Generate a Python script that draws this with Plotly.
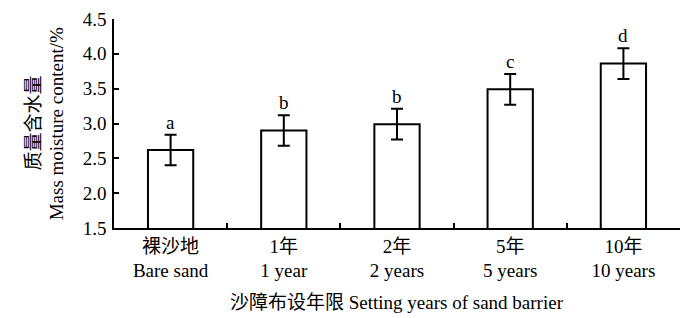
import plotly.graph_objects as go

categories = ["裸沙地<br>Bare sand", "1年<br>1 year", "2年<br>2 years", "5年<br>5 years", "10年<br>10 years"]
values = [2.62, 2.90, 2.99, 3.49, 3.86]
errors = [0.22, 0.22, 0.22, 0.22, 0.22]
letters = ["a", "b", "b", "c", "d"]
y_ticks = [1.5, 2.0, 2.5, 3.0, 3.5, 4.0, 4.5]
x_title = "沙障布设年限 Setting years of sand barrier"
y_title_cn = "质量含水量"
y_title_en = "Mass moisture content/%"

FONT = "Liberation Serif, Times New Roman, Noto Sans CJK SC, serif"
FS = 19

fig = go.Figure()
fig.add_trace(go.Bar(
    x=categories, y=values, width=0.4,
    marker=dict(color="white", line=dict(color="black", width=2)),
    error_y=dict(type="data", array=errors, visible=True, color="black", thickness=2, width=6),
    showlegend=False,
))

for c, v, e, l in zip(categories, values, errors, letters):
    fig.add_annotation(x=c, y=v + e, text=l, showarrow=False, yanchor="bottom", yshift=0,
                       font=dict(family=FONT, size=FS, color="black"))

fig.add_annotation(xref="paper", yref="paper", x=-0.143, y=0.5, text=y_title_cn, textangle=-90,
                   showarrow=False, xanchor="center", yanchor="middle",
                   font=dict(family=FONT, size=FS, color="black"))
fig.add_annotation(xref="paper", yref="paper", x=-0.101, y=0.5, text=y_title_en, textangle=-90,
                   showarrow=False, xanchor="center", yanchor="middle",
                   font=dict(family=FONT, size=FS, color="black"))
fig.add_annotation(xref="paper", yref="paper", x=0.5, y=-0.355, text=x_title,
                   showarrow=False, xanchor="center", yanchor="middle",
                   font=dict(family=FONT, size=FS, color="black"))

fig.update_layout(
    width=692, height=310,
    margin=dict(l=106, r=20, t=11, b=90),
    plot_bgcolor="white", paper_bgcolor="white",
    font=dict(family=FONT, size=FS, color="black"),
    xaxis=dict(
        type="category", range=[-0.5, 4.5], showline=True, linecolor="black", linewidth=1.5,
        ticks="inside", tickson="boundaries", ticklen=5, tickwidth=1.5, tickcolor="black",
        showgrid=False, zeroline=False, automargin=False,
    ),
    yaxis=dict(
        range=[1.5, 4.5], tickvals=y_ticks, tickformat=".1f", showline=True, linecolor="black", linewidth=1.5,
        ticks="inside", ticklen=5, tickwidth=1.5, tickcolor="black", showgrid=False, zeroline=False,
        ticklabelstandoff=2, automargin=False, ticklabeloverflow="allow",
    ),
)

fig.write_html("out.html")
